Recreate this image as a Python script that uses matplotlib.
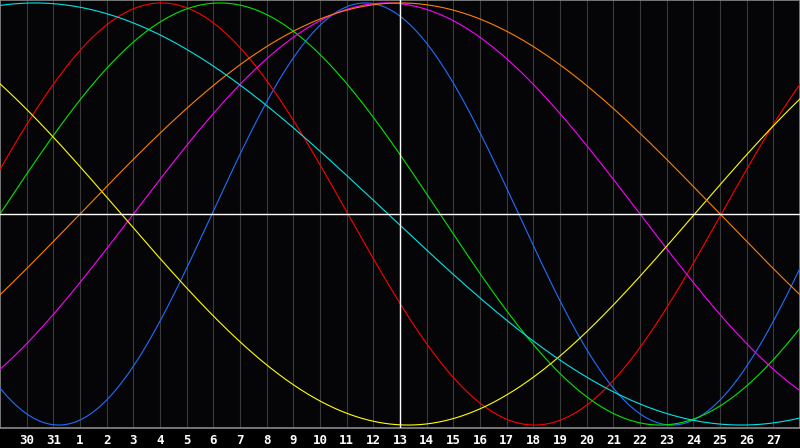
import numpy as np
import matplotlib
matplotlib.use("Agg")
import matplotlib.pyplot as plt

# Day labels along the bottom (offset 0 = centre day "13")
day_offsets = list(range(-14, 15))
day_labels = ["30", "31"] + [str(d) for d in range(1, 28)]

# Biorhythm cycles: length in days, day offset of a peak, colour
cycle_names = ["physical", "emotional", "intellectual", "intuitive",
               "aesthetic", "awareness", "spiritual"]
cycle_days = [23, 28, 33, 38, 43, 48, 53]
peak_offsets = [-1.3, -8.95, -6.75, -0.5, -21.2, 0.0, -13.7]
cycle_colors = ["#1f6fff", "#ff0000", "#00e600", "#ff00ff",
                "#ffff00", "#ff8000", "#00e5e5"]

fig = plt.figure(figsize=(8.0, 4.48), dpi=100, facecolor="black")
ax = fig.add_axes([0.0, 20 / 448, 1.0, 428 / 448])
ax.set_facecolor("#050508")

ax.set_xlim(-15, 15)
ax.set_ylim(-1.014, 1.014)

# vertical day grid
for d in range(-14, 15):
    ax.axvline(d, color="#3a3a3a", lw=0.8, zorder=1)

t = np.linspace(-15, 15, 1200)
for P, pk, c in zip(cycle_days, peak_offsets, cycle_colors):
    v = np.cos(2 * np.pi * (t - pk) / P)
    ax.plot(t, v, color=c, lw=0.8, zorder=3)

# centre cross
ax.axhline(0, color="white", lw=1.0, zorder=4)
ax.axvline(0, color="white", lw=1.0, zorder=4)

for s in ax.spines.values():
    s.set_color("#8a8a8a")
    s.set_linewidth(1.2)

ax.set_yticks([])
ax.set_xticks(day_offsets)
ax.set_xticklabels(day_labels, fontfamily="DejaVu Sans Mono",
                   fontweight="bold", fontsize=9, color="white")
ax.tick_params(axis="x", length=0, pad=4)

fig.savefig("out.png", dpi=100, facecolor="black")
